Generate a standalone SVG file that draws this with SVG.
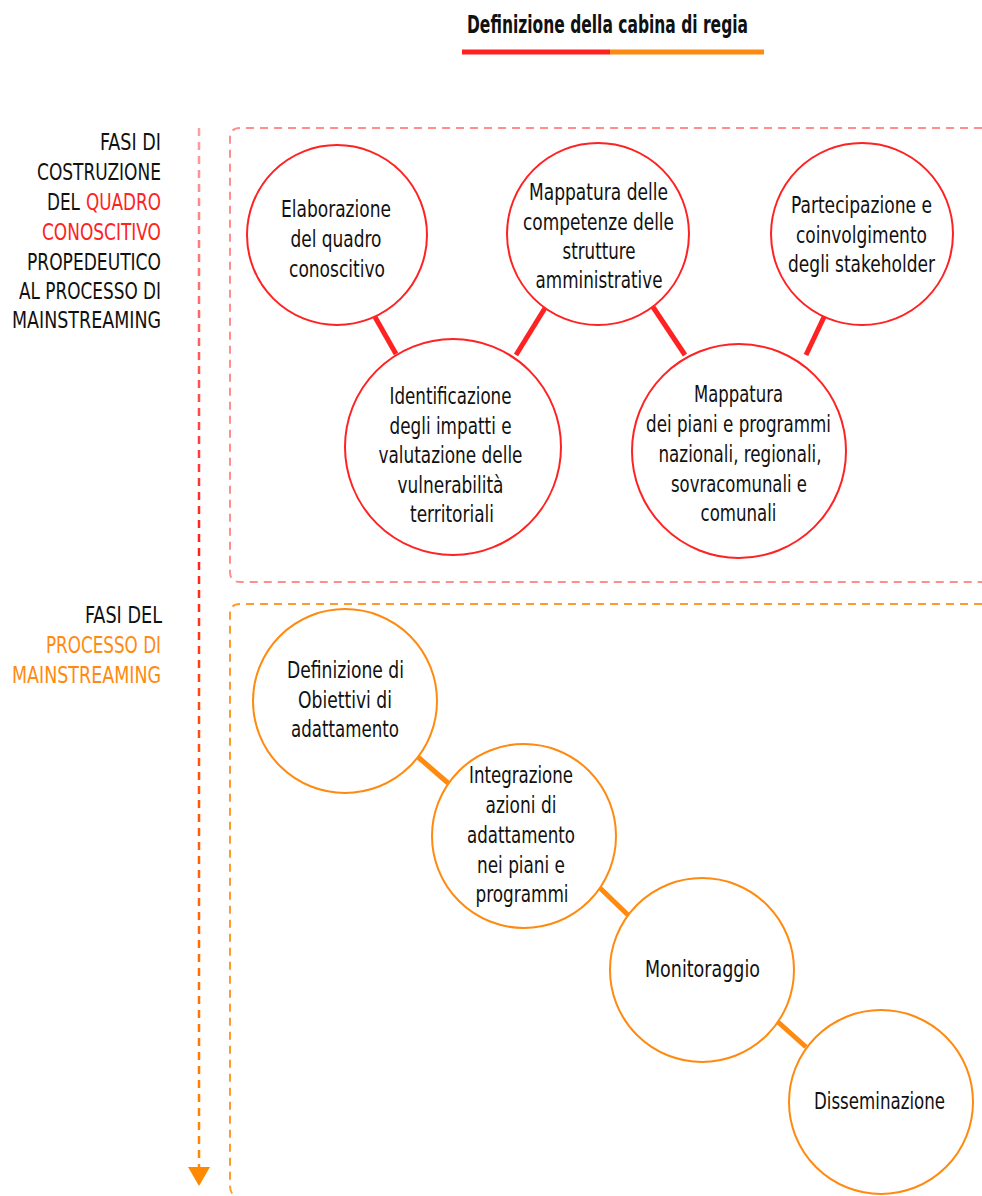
<svg xmlns="http://www.w3.org/2000/svg" width="982" height="1196" viewBox="0 0 982 1196">
<defs>
<linearGradient id="arrowGrad" gradientUnits="userSpaceOnUse" x1="0" y1="128" x2="0" y2="1170">
<stop offset="0" stop-color="#ffa0a0"/>
<stop offset="0.4" stop-color="#ff2020"/>
<stop offset="0.55" stop-color="#ff4a10"/>
<stop offset="1" stop-color="#ff8a00"/>
</linearGradient>
<style>
text{font-family:"DejaVu Sans Condensed","Liberation Sans",sans-serif;fill:#111;}
.c{font-size:22.5px;text-anchor:middle;}
.l{font-size:22.5px;text-anchor:end;}
.red{stroke:#ff2222;stroke-width:2;fill:#fff;}
.org{stroke:#ff8a10;stroke-width:2;fill:#fff;}
.rl{stroke:#ff2222;stroke-width:5;}
.ol{stroke:#ff8a10;stroke-width:5;}
.rt{fill:#ff2222;}
.ot{fill:#ff8a10;}
</style>
</defs>
<rect width="982" height="1196" fill="#fff"/>

<g id="title">
<text x="607.5" y="33" style="font-size:24px;font-weight:bold;text-anchor:middle;" textLength="281" lengthAdjust="spacingAndGlyphs">Definizione della cabina di regia</text>
<line x1="462" y1="52" x2="610" y2="52" stroke="#ff2222" stroke-width="5"/>
<line x1="610" y1="52" x2="764" y2="52" stroke="#ff8a10" stroke-width="5"/>
</g>

<g id="labels">
<text class="l" x="161" y="150" textLength="61" lengthAdjust="spacingAndGlyphs">FASI DI</text>
<text class="l" x="161" y="180" textLength="124" lengthAdjust="spacingAndGlyphs">COSTRUZIONE</text>
<text class="l" x="80" y="210" textLength="33" lengthAdjust="spacingAndGlyphs">DEL</text>
<text class="l rt" x="161" y="210" textLength="75" lengthAdjust="spacingAndGlyphs">QUADRO</text>
<text class="l rt" x="161" y="240" textLength="119" lengthAdjust="spacingAndGlyphs">CONOSCITIVO</text>
<text class="l" x="161" y="270" textLength="134" lengthAdjust="spacingAndGlyphs">PROPEDEUTICO</text>
<text class="l" x="161" y="299" textLength="142" lengthAdjust="spacingAndGlyphs">AL PROCESSO DI</text>
<text class="l" x="161" y="328" textLength="149" lengthAdjust="spacingAndGlyphs">MAINSTREAMING</text>
<text class="l" x="162" y="623" textLength="77" lengthAdjust="spacingAndGlyphs">FASI DEL</text>
<text class="l ot" x="161" y="653" textLength="115" lengthAdjust="spacingAndGlyphs">PROCESSO DI</text>
<text class="l ot" x="161" y="683" textLength="149" lengthAdjust="spacingAndGlyphs">MAINSTREAMING</text>
</g>

<g id="timeline">
<line x1="199" y1="128" x2="199" y2="1168" stroke="url(#arrowGrad)" stroke-width="2.5" stroke-dasharray="8,6"/>
<polygon points="188,1167 210,1167 199,1186" fill="#ff8a00"/>
</g>

<g id="frames">
<path d="M982,128 H240 Q230,128 230,138 V572 Q230,582 240,582 H982" fill="none" stroke="#ff8f8f" stroke-width="2" stroke-dasharray="8,6"/>
<path d="M982,604 H240 Q230,604 230,614 V1186 Q230,1196 240,1198" fill="none" stroke="#ff9a30" stroke-width="2" stroke-dasharray="8,6"/>
</g>

<g id="connectors">
<line class="rl" x1="375" y1="317" x2="396" y2="354"/>
<line class="rl" x1="545" y1="308" x2="516" y2="355"/>
<line class="rl" x1="653" y1="307" x2="685" y2="355"/>
<line class="rl" x1="824" y1="317" x2="806" y2="355"/>
<line class="ol" x1="418" y1="757" x2="448" y2="783"/>
<line class="ol" x1="600" y1="888" x2="628" y2="915"/>
<line class="ol" x1="778" y1="1022" x2="806" y2="1047"/>
</g>

<g id="n1">
<circle class="red" cx="337" cy="235" r="90"/>
<text class="c" x="336" y="217" textLength="110" lengthAdjust="spacingAndGlyphs">Elaborazione</text>
<text class="c" x="336" y="247" textLength="91" lengthAdjust="spacingAndGlyphs">del quadro</text>
<text class="c" x="337" y="277" textLength="96" lengthAdjust="spacingAndGlyphs">conoscitivo</text>
</g>
<g id="n2">
<circle class="red" cx="598" cy="234" r="91"/>
<text class="c" x="598.5" y="200" textLength="139" lengthAdjust="spacingAndGlyphs">Mappatura delle</text>
<text class="c" x="598.5" y="230" textLength="151" lengthAdjust="spacingAndGlyphs">competenze delle</text>
<text class="c" x="599" y="259" textLength="73" lengthAdjust="spacingAndGlyphs">strutture</text>
<text class="c" x="599" y="288" textLength="127" lengthAdjust="spacingAndGlyphs">amministrative</text>
</g>
<g id="n3">
<circle class="red" cx="862" cy="234" r="91"/>
<text class="c" x="861.5" y="213" textLength="141" lengthAdjust="spacingAndGlyphs">Partecipazione e</text>
<text class="c" x="861.5" y="243" textLength="131" lengthAdjust="spacingAndGlyphs">coinvolgimento</text>
<text class="c" x="861.5" y="272" textLength="147" lengthAdjust="spacingAndGlyphs">degli stakeholder</text>
</g>
<g id="n4">
<circle class="red" cx="453" cy="447" r="108"/>
<text class="c" x="450.5" y="404" textLength="122" lengthAdjust="spacingAndGlyphs">Identificazione</text>
<text class="c" x="450.5" y="434" textLength="122" lengthAdjust="spacingAndGlyphs">degli impatti e</text>
<text class="c" x="450.5" y="463" textLength="144" lengthAdjust="spacingAndGlyphs">valutazione delle</text>
<text class="c" x="450.5" y="493" textLength="106" lengthAdjust="spacingAndGlyphs">vulnerabilità</text>
<text class="c" x="452" y="522" textLength="84" lengthAdjust="spacingAndGlyphs">territoriali</text>
</g>
<g id="n5">
<circle class="red" cx="739" cy="451" r="107"/>
<text class="c" x="738.5" y="402" textLength="89" lengthAdjust="spacingAndGlyphs">Mappatura</text>
<text class="c" x="738.5" y="432" textLength="185" lengthAdjust="spacingAndGlyphs">dei piani e programmi</text>
<text class="c" x="740" y="462" textLength="163" lengthAdjust="spacingAndGlyphs">nazionali, regionali,</text>
<text class="c" x="739" y="492" textLength="136" lengthAdjust="spacingAndGlyphs">sovracomunali e</text>
<text class="c" x="738.5" y="521" textLength="76" lengthAdjust="spacingAndGlyphs">comunali</text>
</g>

<g id="n6">
<circle class="org" cx="345" cy="701" r="92"/>
<text class="c" x="345.5" y="678" textLength="117" lengthAdjust="spacingAndGlyphs">Definizione di</text>
<text class="c" x="345" y="708" textLength="94" lengthAdjust="spacingAndGlyphs">Obiettivi di</text>
<text class="c" x="345" y="737" textLength="108" lengthAdjust="spacingAndGlyphs">adattamento</text>
</g>
<g id="n7">
<circle class="org" cx="524" cy="836" r="92"/>
<text class="c" x="521" y="783" textLength="104" lengthAdjust="spacingAndGlyphs">Integrazione</text>
<text class="c" x="521" y="813" textLength="71" lengthAdjust="spacingAndGlyphs">azioni di</text>
<text class="c" x="521" y="843" textLength="108" lengthAdjust="spacingAndGlyphs">adattamento</text>
<text class="c" x="521" y="873" textLength="88" lengthAdjust="spacingAndGlyphs">nei piani e</text>
<text class="c" x="522" y="902" textLength="93" lengthAdjust="spacingAndGlyphs">programmi</text>
</g>
<g id="n8">
<circle class="org" cx="702" cy="970" r="92"/>
<text class="c" x="702.5" y="977" textLength="115" lengthAdjust="spacingAndGlyphs">Monitoraggio</text>
</g>
<g id="n9">
<circle class="org" cx="881" cy="1102" r="92"/>
<text class="c" x="879.5" y="1109" textLength="131" lengthAdjust="spacingAndGlyphs">Disseminazione</text>
</g>
</svg>
